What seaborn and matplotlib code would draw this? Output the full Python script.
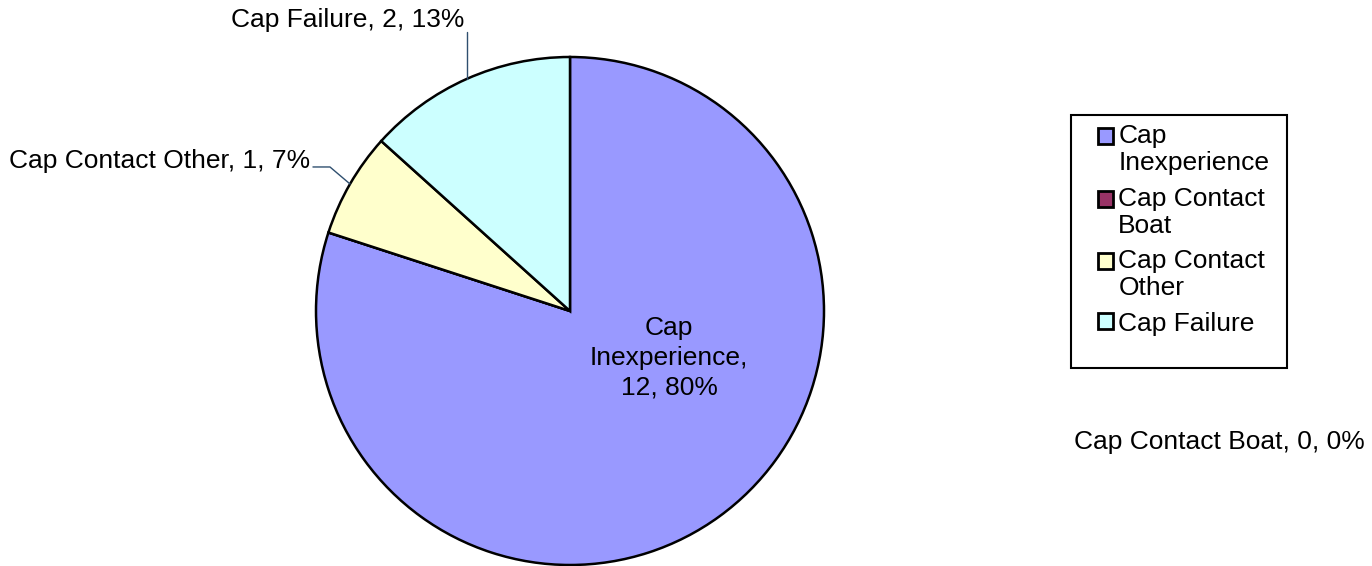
import numpy as np
import matplotlib
matplotlib.use("Agg")
import matplotlib.pyplot as plt
from matplotlib.patches import Rectangle
from matplotlib.legend_handler import HandlerPatch
import seaborn as sns

sns.set_theme(style="white")
plt.rcParams['font.family'] = ['Liberation Sans', 'DejaVu Sans']

categories = ['Cap Inexperience', 'Cap Contact Boat', 'Cap Contact Other', 'Cap Failure']
legend_labels = ['Cap\nInexperience', 'Cap Contact\nBoat', 'Cap Contact\nOther', 'Cap Failure']
counts = [12, 0, 1, 2]
colors = ['#9999FF', '#993366', '#FFFFCC', '#CCFFFF']

total = sum(counts)
pcts = [round(100 * c / total) for c in counts]

fig = plt.figure(figsize=(13.72, 5.66), dpi=100)
ax = fig.add_axes([0.2303, 0.0018, 0.3703, 0.8975])

wedges, _ = ax.pie(counts, colors=colors, startangle=90, counterclock=False, radius=1,
                   wedgeprops=dict(edgecolor='black', linewidth=1.8))
ax.set_xlim(-1, 1)
ax.set_ylim(-1, 1)
ax.set_aspect('equal')
ax.axis('off')

fs = 19
lead = '#2F4F6F'

# Inexperience label inside the slice
ax.text(0.39, -0.185, f"Cap\nInexperience,\n{counts[0]}, {pcts[0]}%", ha='center', va='center',
        fontsize=fs, linespacing=1.3, color='black')

# Cap Failure label with vertical leader
ang = np.deg2rad(90 - 360 * (counts[0] + counts[1] + counts[2] + counts[3] / 2) / total)
ex, ey = np.cos(ang), np.sin(ang)
ax.plot([ex, ex], [ey, 1.10], color=lead, lw=1, clip_on=False)
ax.text(ex - 0.01, 1.145, f"{categories[3]}, {counts[3]}, {pcts[3]}%", ha='right', va='center',
        fontsize=fs, color='black', clip_on=False)

# Cap Contact Other label with bent leader
ang = np.deg2rad(90 - 360 * (counts[0] + counts[1] + counts[2] / 2) / total)
ex, ey = np.cos(ang), np.sin(ang)
ax.plot([ex, -0.945, -1.012], [ey, 0.567, 0.567], color=lead, lw=1, clip_on=False)
ax.text(-1.022, 0.59, f"{categories[2]}, {counts[2]}, {pcts[2]}%", ha='right', va='center',
        fontsize=fs, color='black', clip_on=False)

# zero slice label far right
fig.text(0.889, 0.219, f"{categories[1]}, {counts[1]}, {pcts[1]}%", ha='center', va='center',
         fontsize=fs, color='black')

# legend: marker next to the first line of each label
nlines = {id(w): lab.count('\n') + 1 for w, lab in zip(wedges, legend_labels)}
line_pt = 27.5 * 72 / 100


def top_square(legend, orig_handle, xdescent, ydescent, width, height, fontsize):
    shift = 0.5 * (nlines[id(orig_handle)] - 1) * line_pt
    return Rectangle((-xdescent, -ydescent + shift), width, height)


leg = fig.legend(wedges, legend_labels, loc='upper left', bbox_to_anchor=(1098 / 1372, 1 - 124 / 566),
                 fontsize=fs, frameon=False, handlelength=0.57, handleheight=0.57,
                 handletextpad=0.2, labelspacing=0.42, borderpad=0, borderaxespad=0,
                 handler_map={w: HandlerPatch(patch_func=top_square) for w in wedges})
for t in leg.get_texts():
    t.set_linespacing(1.18)
    t.set_color('black')
for h in leg.legend_handles:
    h.set_linewidth(2)

fig.patches.append(Rectangle((1071 / 1372, 1 - 368 / 566), 216 / 1372, 253 / 566,
                             transform=fig.transFigure, fill=False, edgecolor='black', linewidth=1.5))

fig.savefig("out.png", dpi=100, facecolor='white')
